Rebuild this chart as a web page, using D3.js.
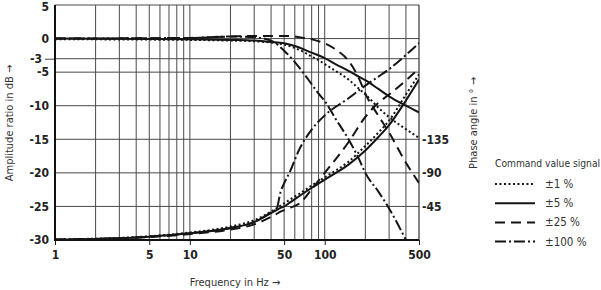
<!DOCTYPE html>
<html>
<head>
<meta charset="utf-8">
<script src="https://cdn.jsdelivr.net/npm/d3@7/dist/d3.min.js"></script>
<style>
  body { margin: 0; background: #fff; }
  svg { display: block; }
</style>
</head>
<body>
<div id="chart"></div>
<script>
const layout = {
    width: 601,
    height: 290,
    marginLeft: 55,
    marginTop: 5,
    chartWidth: 364,
    chartHeight: 235
};

// amplitude ratio (dB) per command value signal
const ampFreq = [1, 10, 20, 30, 40, 50, 60, 70, 80, 90, 100, 120, 150, 180, 200, 250, 300, 400, 500];
const amp1   = [-0.1, -0.2, -0.3, -0.4, -0.6, -0.9, -1.4, -2.0, -2.7, -3.2, -3.8, -4.8, -6.1, -7.5, -8.3, -10.3, -11.7, -13.5, -14.8];
const amp5   = [0, -0.1, -0.2, -0.3, -0.5, -0.7, -1.1, -1.6, -2.1, -2.5, -2.9, -3.8, -4.8, -5.7, -6.2, -7.5, -8.6, -10, -11];
const amp25  = [0, 0.1, 0.3, 0.4, 0.4, 0.4, 0.3, 0.1, -0.1, -0.4, -0.7, -1.6, -3.3, -6.0, -8.2, -11.5, -14, -18.5, -21.5];
const amp100 = [0, 0.1, 0.3, 0.2, -0.3, -1.8, -3.5, -5.2, -6.8, -8.2, -9.3, -11.9, -15, -18, -20, -22.8, -25.3, -30, null];

// phase angle (degrees) per command value signal
const phaseFreq = [1, 2, 3, 5, 10, 20, 30, 40, 44, 47, 50, 55, 65, 80, 100, 150, 200, 250, 300, 400, 500];
const phase1   = [-0.7, -1.8, -2.8, -5, -10, -18, -26.5, -38, -42.5, -46, -49, -54, -62, -73, -84, -105, -126, -144, -160, -195, -222];
const phase5   = [-0.5, -1.5, -2.3, -4.5, -9, -16, -24, -36, -40, -43, -45, -50, -59, -70, -81, -101, -120, -138, -154, -187, -215];
const phase25  = [-0.5, -1.4, -2.1, -4, -8, -14, -21, -31, -35, -38, -40, -43, -49, -68, -90, -131, -165, -184, -195, -214, -230];
const phase100 = [-0.5, -1.5, -2.3, -4.5, -9, -16, -24, -37, -42, -64, -76, -91, -122, -148, -167, -190, -207, -219, -229, -248, -264];

const legendLabels = ["±1 %", "±5 %", "±25 %", "±100 %"];
const dbTicks = [-30, -25, -20, -15, -10, -5, -3, 0, 5];
const freqTicks = [1, 5, 10, 50, 100, 500];
const freqGrid = [2, 3, 4, 5, 6, 7, 8, 9, 10, 20, 30, 40, 50, 60, 70, 80, 90, 100, 200, 300, 400];
const phaseTicks = [-135, -90, -45];

const dashes = ["2,2.5", null, "10,6", "11,3,2,3"];
const labelFont = "'DejaVu Sans Condensed', 'Liberation Sans Narrow', sans-serif";

let svg = d3.select("#chart").append("svg")
    .attr("width", layout.width)
    .attr("height", layout.height);

let xScale = d3.scaleLog()
    .domain([1, 500])
    .range([layout.marginLeft, layout.marginLeft + layout.chartWidth]);
let yScale = d3.scaleLinear()
    .domain([-30, 5])
    .range([layout.marginTop + layout.chartHeight, layout.marginTop]);
let yPhase = d3.scaleLinear()
    .domain([0, -315])
    .range([layout.marginTop + layout.chartHeight, layout.marginTop]);

const x0 = layout.marginLeft, x1 = layout.marginLeft + layout.chartWidth;
const y0 = layout.marginTop, y1 = layout.marginTop + layout.chartHeight;

// grid
svg.append("g").selectAll("line").data(freqGrid).join("line")
    .attr("x1", d => xScale(d)).attr("x2", d => xScale(d))
    .attr("y1", y0).attr("y2", y1)
    .attr("stroke", "#4a4a4a").attr("stroke-width", 1);
svg.append("g").selectAll("line").data(dbTicks.filter(d => d > -30)).join("line")
    .attr("x1", x0).attr("x2", x1)
    .attr("y1", d => yScale(d)).attr("y2", d => yScale(d))
    .attr("stroke", "#4a4a4a").attr("stroke-width", 1);
svg.append("line")
    .attr("x1", x1).attr("x2", x1).attr("y1", y0).attr("y2", y1)
    .attr("stroke", "#333").attr("stroke-width", 1.2);

// left axis
let yAxis = svg.append("g")
    .attr("transform", `translate(${x0},0)`)
    .call(d3.axisLeft(yScale).tickValues(dbTicks).tickSize(0).tickPadding(6).tickFormat(d => String(d)));
yAxis.select(".domain").remove();
yAxis.selectAll("text")
    .attr("font-family", labelFont).attr("font-weight", "bold").attr("font-size", 12).attr("fill", "#222");
yAxis.selectAll(".tick").filter(d => d === 5).select("text").attr("dy", "0.45em");
yAxis.selectAll(".tick").filter(d => d === -3).select("line")
    .attr("x2", -10).attr("stroke", "#4a4a4a");
yAxis.selectAll(".tick").filter(d => d === -3).select("text").attr("x", -13);

// bottom axis
let xAxis = svg.append("g")
    .attr("transform", `translate(0,${y1})`)
    .call(d3.axisBottom(xScale).tickValues(freqTicks).tickSize(5).tickPadding(5).tickFormat(d3.format("d")));
xAxis.select(".domain").remove();
xAxis.selectAll("line").attr("stroke", "#222");
xAxis.selectAll("text")
    .attr("font-family", labelFont).attr("font-weight", "bold").attr("font-size", 12).attr("fill", "#222");

// right phase axis
let pAxis = svg.append("g")
    .attr("transform", `translate(${x1},0)`)
    .call(d3.axisRight(yPhase).tickValues(phaseTicks).tickSize(0).tickPadding(3).tickFormat(d => String(d)));
pAxis.select(".domain").remove();
pAxis.selectAll("text")
    .attr("font-family", labelFont).attr("font-weight", "bold").attr("font-size", 12).attr("fill", "#222");

// frame left and bottom
svg.append("line").attr("x1", x0).attr("x2", x0).attr("y1", y0).attr("y2", y1 + 1)
    .attr("stroke", "#111").attr("stroke-width", 2);
svg.append("line").attr("x1", x0 - 1).attr("x2", x1).attr("y1", y1).attr("y2", y1)
    .attr("stroke", "#111").attr("stroke-width", 2);

// curves
svg.append("clipPath").attr("id", "plot-clip")
    .append("rect").attr("x", x0).attr("y", y0).attr("width", layout.chartWidth).attr("height", layout.chartHeight + 1);

const ampSeries = [amp1, amp5, amp25, amp100];
const phaseSeries = [phase1, phase5, phase25, phase100];

let ampLine = d3.line()
    .defined(d => d[1] !== null)
    .x(d => xScale(d[0]))
    .y(d => yScale(d[1]))
    .curve(d3.curveMonotoneX);
let phaseLine = d3.line()
    .x(d => xScale(d[0]))
    .y(d => yPhase(d[1]))
    .curve(d3.curveMonotoneX);

let curves = svg.append("g").attr("clip-path", "url(#plot-clip)");
for (let i = 0; i < 4; i++) {
    curves.append("path")
        .datum(ampFreq.map((f, j) => [f, ampSeries[i][j]]))
        .attr("fill", "none")
        .attr("stroke", "#151515")
        .attr("stroke-width", 2)
        .attr("stroke-dasharray", dashes[i])
        .attr("d", ampLine);
    curves.append("path")
        .datum(phaseFreq.map((f, j) => [f, phaseSeries[i][j]]))
        .attr("fill", "none")
        .attr("stroke", "#151515")
        .attr("stroke-width", 2)
        .attr("stroke-dasharray", dashes[i])
        .attr("d", phaseLine);
}

// axis titles
svg.append("text")
    .attr("transform", `translate(13,123) rotate(-90)`)
    .attr("text-anchor", "middle")
    .attr("font-family", labelFont).attr("font-size", 11).attr("fill", "#333")
    .text("Amplitude ratio in dB →");
svg.append("text")
    .attr("x", 235).attr("y", 286)
    .attr("text-anchor", "middle")
    .attr("font-family", labelFont).attr("font-size", 11).attr("fill", "#333")
    .text("Frequency in Hz →");
svg.append("text")
    .attr("transform", `translate(477,123) rotate(-90)`)
    .attr("text-anchor", "middle")
    .attr("font-family", labelFont).attr("font-size", 11).attr("fill", "#333")
    .text("Phase angle in ° →");

// legend
svg.append("text")
    .attr("x", 495).attr("y", 167)
    .attr("font-family", labelFont).attr("font-size", 10.2).attr("fill", "#333")
    .text("Command value signal");
let legend = svg.append("g").selectAll("g").data(legendLabels).join("g")
    .attr("transform", (d, i) => `translate(495,${184 + i * 19.2})`);
legend.append("line")
    .attr("x1", 0).attr("x2", 40)
    .attr("stroke", "#151515").attr("stroke-width", 2)
    .attr("stroke-dasharray", (d, i) => dashes[i]);
legend.append("text")
    .attr("x", 50).attr("y", 0).attr("dy", "0.35em")
    .attr("font-family", labelFont).attr("font-size", 11.5).attr("fill", "#333")
    .text(d => d);
</script>
</body>
</html>
